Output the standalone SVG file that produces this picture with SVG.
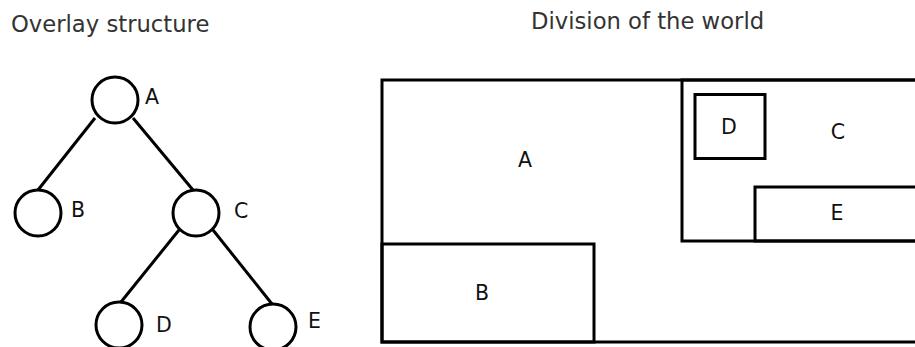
<svg xmlns="http://www.w3.org/2000/svg" width="915" height="347" viewBox="0 0 915 347">
<style>
.t{font-family:"DejaVu Sans",sans-serif;font-size:22.7px;fill:#333}
.l{font-family:"DejaVu Sans",sans-serif;font-size:20.5px;fill:#111}
.n{fill:#fff;stroke:#000;stroke-width:3}
.e{stroke:#000;stroke-width:3;fill:none}
.r{fill:none;stroke:#000;stroke-width:3}
</style>
<rect width="915" height="347" fill="#fff"/>
<text class="t" x="11" y="32">Overlay structure</text>
<text class="t" x="531" y="29">Division of the world</text>
<g id="edges">
<line class="e" x1="95" y1="118" x2="38" y2="190"/>
<line class="e" x1="133" y1="118" x2="193" y2="190"/>
<line class="e" x1="179" y1="230" x2="121" y2="302"/>
<line class="e" x1="213" y1="230" x2="272" y2="304"/>
</g>
<g id="nodeA"><circle class="n" cx="115" cy="100" r="23"/><text class="l" x="145" y="104">A</text></g>
<g id="nodeB"><circle class="n" cx="38" cy="213" r="23"/><text class="l" x="71" y="217">B</text></g>
<g id="nodeC"><circle class="n" cx="196" cy="213" r="23"/><text class="l" x="234" y="218">C</text></g>
<g id="nodeD"><circle class="n" cx="119" cy="325" r="23"/><text class="l" x="156" y="332">D</text></g>
<g id="nodeE"><circle class="n" cx="273" cy="327" r="23"/><text class="l" x="308" y="328">E</text></g>
<g id="world">
<rect class="r" x="382" y="80" width="545" height="262"/>
<rect class="r" x="682" y="80" width="245" height="161"/>
<rect class="r" x="695" y="94.5" width="70" height="64"/>
<rect class="r" x="755" y="187" width="172" height="54"/>
<rect class="r" x="382" y="244" width="212" height="98"/>
<text class="l" x="525" y="167" text-anchor="middle">A</text>
<text class="l" x="729" y="134" text-anchor="middle">D</text>
<text class="l" x="838" y="139" text-anchor="middle">C</text>
<text class="l" x="837" y="220" text-anchor="middle">E</text>
<text class="l" x="482" y="300" text-anchor="middle">B</text>
</g>
</svg>
